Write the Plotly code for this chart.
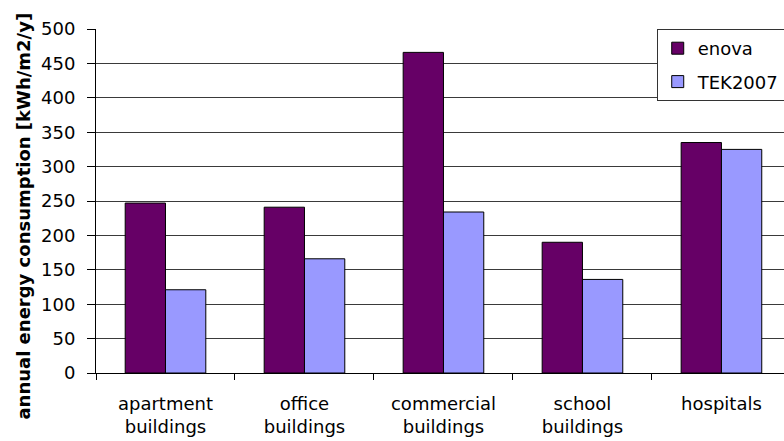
import plotly.graph_objects as go

categories = ["apartment<br>buildings", "office<br>buildings", "commercial<br>buildings",
              "school<br>buildings", "hospitals"]
enova = [247, 241, 466, 190, 335]
tek2007 = [121, 166, 234, 136, 325]
y_ticks = [0, 50, 100, 150, 200, 250, 300, 350, 400, 450, 500]
y_title = "annual energy consumption [kWh/m2/y]"

FONT = "DejaVu Sans"

fig = go.Figure()
fig.add_trace(go.Bar(x=categories, y=enova, name="enova", legendgroup="a",
                     marker=dict(color="#660066", line=dict(color="black", width=1))))
fig.add_trace(go.Bar(x=categories, y=tek2007, name="TEK2007", legendgroup="b",
                     marker=dict(color="#9999FF", line=dict(color="black", width=1))))

fig.update_layout(
    width=784, height=441,
    margin=dict(l=96, r=0, t=29, b=68, autoexpand=False),
    paper_bgcolor="white", plot_bgcolor="white",
    barmode="group", bargap=0.42, bargroupgap=0,
    font=dict(family=FONT, size=18, color="black"),
    showlegend=True,
    legend=dict(x=0.815, y=1.0, xanchor="left", yanchor="top",
                bgcolor="white", bordercolor="#333", borderwidth=1,
                font=dict(family=FONT, size=18, color="black"),
                tracegroupgap=7, traceorder="grouped"),
    xaxis=dict(type="category", range=[-0.5, 4.45], tickson="boundaries",
               ticks="outside", ticklen=6, tickcolor="black",
               showline=True, linecolor="black", linewidth=1,
               showgrid=False, tickfont=dict(family=FONT, size=18),
               ticklabelstandoff=14, automargin=False),
    yaxis=dict(range=[0, 500], tickvals=y_ticks, ticks="outside", ticklen=8,
               tickcolor="black", showline=True, linecolor="black", linewidth=1,
               showgrid=True, gridcolor="#3a3a3a", gridwidth=1.2, zeroline=False,
               tickfont=dict(family=FONT, size=18), ticklabelstandoff=8,
               automargin=False),
    annotations=[dict(text="<b>" + y_title + "</b>", textangle=-90,
                      xref="paper", yref="paper", x=-0.105, y=0.457,
                      xanchor="center", yanchor="middle", showarrow=False,
                      font=dict(family=FONT, size=18, color="black"))],
)

fig.write_html("out.html")
